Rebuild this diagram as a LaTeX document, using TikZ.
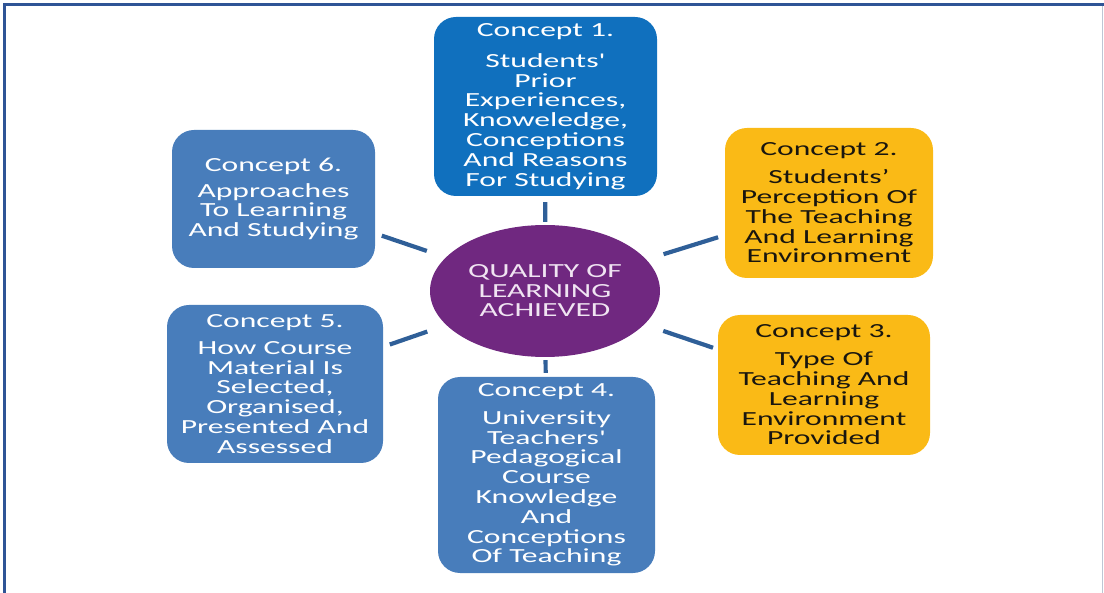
\documentclass[tikz,border=0pt]{standalone}
\usepackage{fontspec}
\usetikzlibrary{shapes.geometric}
\newfontfamily\conceptfont[FakeStretch=1.58]{Carlito}
\definecolor{deepblue}{RGB}{16,112,190}
\definecolor{steelblue}{RGB}{72,125,187}
\definecolor{gold}{RGB}{250,186,22}
\definecolor{plum}{RGB}{112,40,128}
\definecolor{linkblue}{RGB}{47,95,152}
\definecolor{frameblue}{RGB}{47,84,150}
\definecolor{frameedge}{RGB}{190,198,212}
\definecolor{paletext}{RGB}{240,228,242}
\definecolor{darktext}{RGB}{25,22,15}
\begin{document}
\begin{tikzpicture}[x=1pt,y=-1pt,
  concept/.style={rounded corners=22pt, align=center, inner sep=0pt,
    font={\conceptfont\fontsize{20pt}{19.8pt}\selectfont}},
  bluebox/.style={concept, fill=steelblue, text=white},
  topbox/.style={concept, fill=deepblue, text=white},
  goldbox/.style={concept, fill=gold, text=darktext},
  hub/.style={ellipse, fill=plum, text=paletext, inner sep=0pt, align=center,
    minimum width=230pt, minimum height=132pt,
    font={\conceptfont\fontsize{20pt}{19.5pt}\selectfont}},
  link/.style={draw=linkblue, line width=4.2pt}]
\useasboundingbox (0,0) rectangle (1104,593);

% page frame
\draw[frameblue, line width=3pt] (4.5,593) -- (4.5,4.5) -- (1104,4.5);
\draw[frameedge, line width=1.5pt] (1102.5,6) -- (1102.5,593);

% central idea
\node[hub] (q) at (545,291) {QUALITY OF\\LEARNING\\ACHIEVED};

% surrounding concepts
\node[topbox, minimum width=223pt, minimum height=179pt] (c1) at (545.5,106.5)
  {Concept 1.\\[11pt]Students\char39\\Prior\\Experiences,\\Knoweledge,\\Conceptions\\And Reasons\\For Studying};
\node[goldbox, minimum width=208pt, minimum height=150pt] (c2) at (829,203)
  {Concept 2.\\[8pt]Students’\\Perception Of\\The Teaching\\And Learning\\Environment};
\node[goldbox, minimum width=212pt, minimum height=140pt] (c3) at (824,385)
  {Concept 3.\\[8pt]Type Of\\Teaching And\\Learning\\Environment\\Provided};
\node[bluebox, minimum width=217pt, minimum height=196pt] (c4) at (546.5,475)
  {Concept 4.\\[8pt]University\\Teachers\char39\\Pedagogical\\Course\\Knowledge\\And\\Conceptions\\Of Teaching};
\node[bluebox, minimum width=216pt, minimum height=158pt] (c5) at (275,384)
  {Concept 5.\\[7pt]How Course\\Material Is\\Selected,\\Organised,\\Presented And\\Assessed};
\node[bluebox, minimum width=203pt, minimum height=138pt] (c6) at (273.5,199)
  {Concept 6.\\[6pt]Approaches\\To Learning\\And Studying};

% connectors
\draw[link, shorten <=6pt, shorten >=3pt] (c1) -- (q);
\draw[link, shorten <=3pt, shorten >=4pt] (q) -- (c4);
\draw[link, shorten <=7pt, shorten >=20pt] (c6) -- (q);
\draw[link, shorten <=7pt, shorten >=20pt] (c5) -- (q);
\draw[link, shorten <=18pt, shorten >=7pt] (q) -- (c2);
\draw[link, shorten <=20pt, shorten >=5pt] (q) -- (c3);
\end{tikzpicture}
\end{document}
